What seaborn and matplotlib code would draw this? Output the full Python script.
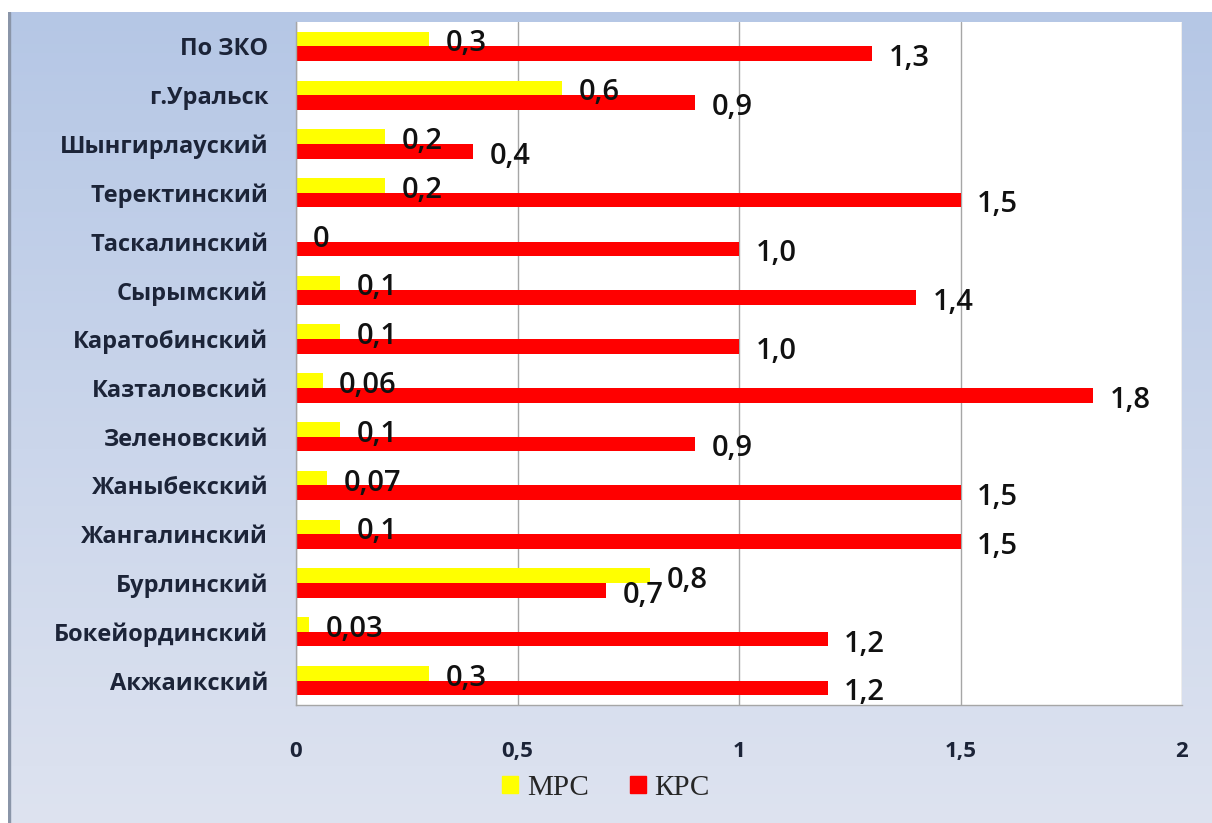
import numpy as np
import pandas as pd
import matplotlib
matplotlib.use("Agg")
import matplotlib.pyplot as plt
import matplotlib.patches as mpatches
import seaborn as sns

categories = ["По ЗКО", "г.Уральск", "Шынгирлауский", "Теректинский", "Таскалинский",
              "Сырымский", "Каратобинский", "Казталовский", "Зеленовский", "Жаныбекский",
              "Жангалинский", "Бурлинский", "Бокейординский", "Акжаикский"]
mrs = [0.3, 0.6, 0.2, 0.2, 0.0, 0.1, 0.1, 0.06, 0.1, 0.07, 0.1, 0.8, 0.03, 0.3]
krs = [1.3, 0.9, 0.4, 1.5, 1.0, 1.4, 1.0, 1.8, 0.9, 1.5, 1.5, 0.7, 1.2, 1.2]
mrs_labels = ["0,3", "0,6", "0,2", "0,2", "0", "0,1", "0,1", "0,06", "0,1", "0,07", "0,1", "0,8", "0,03", "0,3"]
krs_labels = ["1,3", "0,9", "0,4", "1,5", "1,0", "1,4", "1,0", "1,8", "0,9", "1,5", "1,5", "0,7", "1,2", "1,2"]
series = ["МРС", "КРС"]
xticks = [0, 0.5, 1, 1.5, 2]
xtick_labels = ["0", "0,5", "1", "1,5", "2"]

df = pd.DataFrame({
    "cat": categories * 2,
    "val": mrs + krs,
    "ser": [series[0]] * len(categories) + [series[1]] * len(categories),
})

sns.set_theme(style="white")
plt.rcParams['font.family'] = ['Open Sans', 'DejaVu Sans']

W, H = 1212, 823
fig = plt.figure(figsize=(W / 100, H / 100), dpi=100)
fig.patch.set_facecolor("white")

# gradient background panel
bg = fig.add_axes([8 / W, 0, 1 - 8 / W, (H - 12) / H], zorder=0)
grad = np.linspace(0, 1, 256).reshape(-1, 1)
top = np.array([0.71, 0.78, 0.90])
bot = np.array([0.87, 0.89, 0.94])
img = top[None, None, :] * (1 - grad[..., None]) + bot[None, None, :] * grad[..., None]
bg.imshow(img, aspect="auto", extent=[0, 1, 0, 1])
bg.set_axis_off()
bg.add_patch(mpatches.Rectangle((0, 0), 0.002, 1, color="#8a95a8", transform=bg.transAxes))

ax = fig.add_axes([296 / W, 1 - 705 / H, (1182 - 296) / W, (705 - 22) / H], zorder=1)
ax.set_facecolor("white")

sns.barplot(data=df, y="cat", x="val", hue="ser", order=categories, hue_order=series,
            palette=["#ffff00", "#ff0000"], orient="h", width=0.6, ax=ax,
            saturation=1, legend=False, edgecolor="none", linewidth=0)

for cont, labs in zip(ax.containers, [mrs_labels, krs_labels]):
    anns = ax.bar_label(cont, labels=labs, padding=12, fontsize=21, color="#111111",
                        fontweight="semibold")
    for a in anns:
        a.xyann = (12, -3.5)

ax.set_xlim(0, 2)
ax.set_ylim(len(categories) - 0.5, -0.5)
ax.set_xticks(xticks)
ax.set_xticklabels(xtick_labels, fontsize=16, fontweight="bold", color="#1c2438")
ax.set_yticks(range(len(categories)))
ax.set_yticklabels(categories, fontsize=17, fontweight="bold", color="#1c2438")
ax.set_yticks(np.arange(-0.5, len(categories), 1), minor=True)
ax.tick_params(axis="y", which="major", length=0, pad=20)
ax.tick_params(axis="y", which="minor", length=6, color="#8c8c8c", width=1, direction="out")
ax.tick_params(axis="x", which="major", length=6, color="#8c8c8c", width=1, direction="out", pad=20)
ax.set_xlabel("")
ax.set_ylabel("")
ax.grid(axis="x", color="#a6a6a6", linewidth=1)
ax.set_axisbelow(True)
for s in ["top", "right"]:
    ax.spines[s].set_visible(False)
for s in ["left", "bottom"]:
    ax.spines[s].set_color("#a6a6a6")
    ax.spines[s].set_linewidth(1)

handles = [mpatches.Patch(color="#ffff00", label=series[0]),
           mpatches.Patch(color="#ff0000", label=series[1])]
fig.legend(handles=handles, loc="center", bbox_to_anchor=(0.5, 0.0425), ncol=2,
           frameon=False, prop={"family": "Liberation Serif", "size": 21},
           handlelength=0.55, handleheight=0.55, handletextpad=0.3, columnspacing=1.4)

fig.savefig("out.png", dpi=100)
